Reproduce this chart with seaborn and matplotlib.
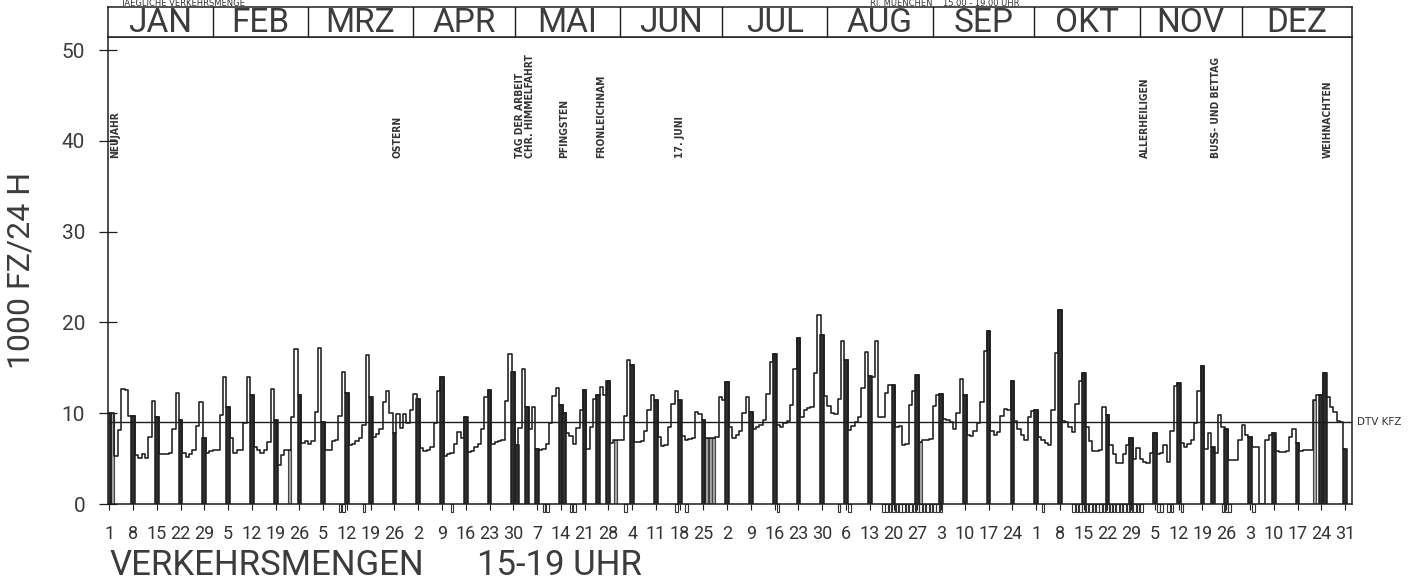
import matplotlib
matplotlib.use("Agg")
import matplotlib.pyplot as plt
import matplotlib.transforms as mtransforms
import numpy as np
import pandas as pd
import seaborn as sns

# ---------------- data (1000 vehicles, 15-19 h, year 1978) ----------------
months = ["JAN", "FEB", "MRZ", "APR", "MAI", "JUN", "JUL", "AUG", "SEP", "OKT", "NOV", "DEZ"]
month_len = [31, 28, 31, 30, 31, 30, 31, 31, 30, 31, 30, 31]

jan = [10.0, 10.0, 5.3, 8.1, 12.7, 12.6, 9.7, 9.7, 5.4, 5.1, 5.5, 5.1, 7.4, 11.3, 9.6, 5.5,
       5.5, 5.5, 5.6, 8.3, 12.2, 9.3, 5.6, 5.2, 5.5, 5.9, 8.6, 11.2, 7.3, 5.6, 5.8]
feb = [5.9, 5.9, 9.8, 14.0, 10.7, 7.3, 5.6, 5.9, 6.0, 8.9, 14.0, 12.0, 6.3, 6.0, 5.6, 6.0,
       6.8, 12.7, 9.2, 4.3, 5.4, 6.0, 6.0, 9.6, 17.1, 12.0, 6.7, 6.9]
mrz = [6.6, 6.9, 10.1, 17.2, 9.0, 5.9, 5.9, 6.9, 7.1, 9.7, 14.5, 12.2, 6.5, 6.6, 6.9, 7.3,
       8.7, 16.4, 11.8, 7.4, 7.7, 8.3, 11.2, 12.5, 10.0, 7.8, 9.9, 8.4, 9.9, 8.9, 10.3]
apr = [12.1, 11.6, 6.2, 5.8, 6.0, 6.3, 8.9, 12.5, 14.0, 5.3, 5.5, 5.6, 6.6, 7.9, 7.3, 9.6,
       5.7, 5.8, 6.3, 6.6, 8.3, 11.8, 12.6, 6.6, 6.8, 6.9, 7.0, 11.3, 16.5, 14.5]
mai = [6.5, 8.4, 14.9, 10.7, 8.3, 10.7, 6.1, 5.9, 6.1, 6.6, 8.9, 11.9, 12.8, 10.9, 10.0, 7.8,
       7.5, 6.6, 8.4, 10.4, 12.6, 6.1, 8.5, 11.6, 12.0, 12.9, 12.0, 13.5, 6.7, 7.0, 7.1]
jun = [7.1, 9.7, 15.9, 15.3, 6.8, 6.8, 6.9, 8.0, 10.3, 12.0, 11.4, 7.4, 6.4, 6.5, 8.5, 11.0,
       12.5, 11.4, 7.5, 7.1, 7.2, 7.3, 10.1, 9.9, 9.2, 7.3, 7.3, 7.3, 7.4, 11.8]
jul = [11.4, 13.4, 8.5, 7.3, 7.6, 8.0, 10.0, 11.8, 10.1, 8.3, 8.5, 8.7, 9.3, 12.1, 15.6, 16.5,
       8.7, 8.5, 8.9, 9.1, 10.9, 14.9, 18.3, 9.6, 10.3, 10.6, 10.7, 14.4, 20.8, 18.6, 11.9]
aug = [10.8, 10.0, 9.9, 11.6, 18.0, 15.9, 8.1, 8.6, 9.0, 9.6, 12.8, 16.7, 14.1, 14.0, 18.0, 9.6,
       9.6, 12.2, 13.1, 13.1, 8.5, 8.6, 6.5, 6.6, 10.9, 12.4, 14.2, 6.8, 7.0, 7.0, 7.2]
sep = [10.8, 12.0, 12.1, 9.4, 9.3, 9.0, 8.3, 10.0, 13.8, 12.0, 7.6, 7.5, 8.0, 8.9, 11.2, 16.8,
       19.1, 8.0, 7.6, 7.9, 9.7, 10.5, 10.4, 13.5, 9.1, 8.3, 7.6, 7.0, 9.6, 10.2]
okt = [10.4, 7.4, 7.0, 6.7, 6.5, 10.4, 16.6, 21.4, 9.1, 9.0, 8.5, 7.9, 11.0, 13.6, 14.4, 8.5,
       6.9, 5.8, 5.8, 5.9, 10.7, 9.8, 6.5, 5.5, 4.5, 4.5, 5.5, 6.5, 7.3, 5.0, 6.2]
nov = [5.0, 4.6, 4.5, 5.6, 7.8, 5.5, 5.6, 6.5, 4.6, 8.0, 13.0, 13.3, 6.7, 6.3, 6.6, 7.0,
       8.9, 12.4, 15.2, 6.1, 7.8, 6.3, 5.6, 9.8, 8.5, 8.3, 4.8, 4.8, 4.8, 7.0]
dez = [8.7, 7.6, 7.4, 6.3, 6.3, 0.0, 0.0, 7.0, 7.6, 7.8, 5.8, 5.7, 5.7, 5.8, 7.4, 8.3,
       6.7, 5.8, 6.0, 5.9, 5.9, 11.4, 12.0, 12.0, 14.4, 11.8, 10.7, 10.1, 9.1, 9.0, 6.1]

dtv_kfz = 9.0

# holidays (day of year) with their labels
holiday_names = ["NEUJAHR", "OSTERN", "TAG DER ARBEIT", "CHR. HIMMELFAHRT", "PFINGSTEN",
                 "FRONLEICHNAM", "17. JUNI", "ALLERHEILIGEN", "BUSS- UND BETTAG", "WEIHNACHTEN"]
holiday_days = [1, 85, 121, 124, 134, 145, 168, 305, 326, 359]
# weekday holidays drawn like Sundays
holiday_bar_days = [121, 124, 135, 145, 326, 359]
# days drawn as open bars (incomplete counts)
open_bar_days = [2, 54, 150, 177, 178, 179, 240, 356]
# days marked with a small box under the axis
marked_days = [69, 70, 76, 102, 129, 130, 137, 138, 153, 168, 171, 198, 216, 219] + \
              list(range(229, 247)) + [276] + list(range(285, 306)) + \
              [310, 311, 313, 314, 317, 329, 330, 331, 338]

title_left = "TAEGLICHE VERKEHRSMENGE"
title_right = "RI. MUENCHEN    15.00 - 19.00 UHR"

# ---------------- assemble ----------------
values = jan + feb + mrz + apr + mai + jun + jul + aug + sep + okt + nov + dez
assert len(values) == 365, len(values)
days = np.arange(1, 366)
dom = np.concatenate([np.arange(1, n + 1) for n in month_len])
df = pd.DataFrame({"day": days, "value": values, "dom": dom})
df["sunday"] = (df["day"] - 1) % 7 == 0
dark = df[df["sunday"] | df["day"].isin(holiday_bar_days)]
openb = df[df["day"].isin(open_bar_days)]

sns.set_theme(style="white")
plt.rcParams["font.family"] = ["DejaVu Sans"]
ink = "#1e1e1e"
txt = "#3c3c3c"
plot_font = dict(family=["Roboto", "DejaVu Sans"], weight="normal")

W, H = 1424, 583
fig = plt.figure(figsize=(W / 100, H / 100), dpi=100)
fig.patch.set_facecolor("white")

x_left, x_right, y_top, y_zero = 108, 1352, 37, 504
px_per_day = 3.395
x0_day = 1 - (109.3 - x_left) / px_per_day
x1_day = 1 + (x_right - 109.3) / px_per_day
ytop_val = (y_zero - y_top) / 9.08

ax = fig.add_axes([x_left / W, (H - y_zero) / H, (x_right - x_left) / W, (y_zero - y_top) / H])
ax.set_facecolor("white")

# open bars and Sunday / holiday bars
ax.bar(openb["day"], openb["value"], width=0.9, facecolor="#a8a8a8", edgecolor="#444",
       linewidth=0.8, zorder=2)
ax.bar(dark["day"], dark["value"], width=1.1, facecolor="#2e2e2e", edgecolor=ink,
       linewidth=1.1, zorder=3)
# step line of daily values
sns.lineplot(data=df, x="day", y="value", drawstyle="steps-mid", color=ink, linewidth=1.15,
             estimator=None, sort=False, ax=ax, zorder=4)
# small boxes below the zero line
ax.bar(marked_days, [-0.9] * len(marked_days), width=0.75, fill=False, edgecolor="#333",
       linewidth=0.8, clip_on=False, zorder=2)

ax.axhline(dtv_kfz, color=ink, linewidth=1.0, zorder=5)
trans = mtransforms.blended_transform_factory(ax.transAxes, ax.transData)
ax.text(1.004, dtv_kfz, "DTV KFZ", transform=trans, ha="left", va="center", fontsize=7.5,
        color="#333")

for name, d in zip(holiday_names, holiday_days):
    ax.text(max(d + 1.0, 2.8), 38.1, name, rotation=90, ha="center", va="bottom",
            fontsize=7.4, color="#333", fontweight="bold", fontstretch="condensed")

ax.set_xlim(x0_day, x1_day)
ax.set_ylim(0, ytop_val)
for s in ax.spines.values():
    s.set_color(ink)
    s.set_linewidth(1.1)

sundays = df[df["sunday"]]
ax.set_xticks(sundays["day"])
ax.set_xticklabels([str(v) for v in sundays["dom"]], fontsize=13, color="#333",
                   family=["Roboto", "DejaVu Sans"], fontstretch="condensed")
ax.tick_params(axis="x", direction="out", length=4, width=0.8, color=ink, pad=11,
               bottom=True)
ax.set_yticks([0, 10, 20, 30, 40, 50])
ax.set_yticklabels(["0", "10", "20", "30", "40", "50"], fontsize=15, color=txt, **plot_font)
ax.tick_params(axis="y", direction="inout", length=13, width=0.9, color=ink, pad=10, left=True)
ax.set_xlabel("")
ax.set_ylabel("1000 FZ/24 H", fontsize=23, color=txt, **plot_font)
ax.yaxis.set_label_coords(-0.058, 0.5)

# month band
axb = fig.add_axes([x_left / W, (H - y_top) / H, (x_right - x_left) / W, 30 / H])
axb.set_xlim(x0_day, x1_day)
axb.set_ylim(0, 1)
axb.set_xticks([])
axb.set_yticks([])
for s in axb.spines.values():
    s.set_color(ink)
    s.set_linewidth(1.1)
edges = np.concatenate([[x0_day], np.cumsum(month_len) + 0.5])
edges[-1] = x1_day
for e in edges[1:-1]:
    axb.axvline(e, color=ink, linewidth=1.0)
for m, a, b in zip(months, edges[:-1], edges[1:]):
    axb.text((a + b) / 2, 0.45, m, ha="center", va="center", fontsize=24, color=txt,
             **plot_font)

# titles (the top line is mostly outside the scanned page, shown small)
fig.text(120 / W, 1 - 6 / H, title_left, fontsize=6, color="#333", va="baseline")
fig.text(870 / W, 1 - 6 / H, title_right, fontsize=6, color="#333", va="baseline")
fig.text(110 / W, 1 - 575 / H, "VERKEHRSMENGEN", fontsize=25, color=txt, va="baseline",
         **plot_font)
fig.text(477 / W, 1 - 575 / H, "15-19 UHR", fontsize=25, color=txt, va="baseline",
         **plot_font)

fig.savefig("out.png", dpi=100, facecolor="white")
